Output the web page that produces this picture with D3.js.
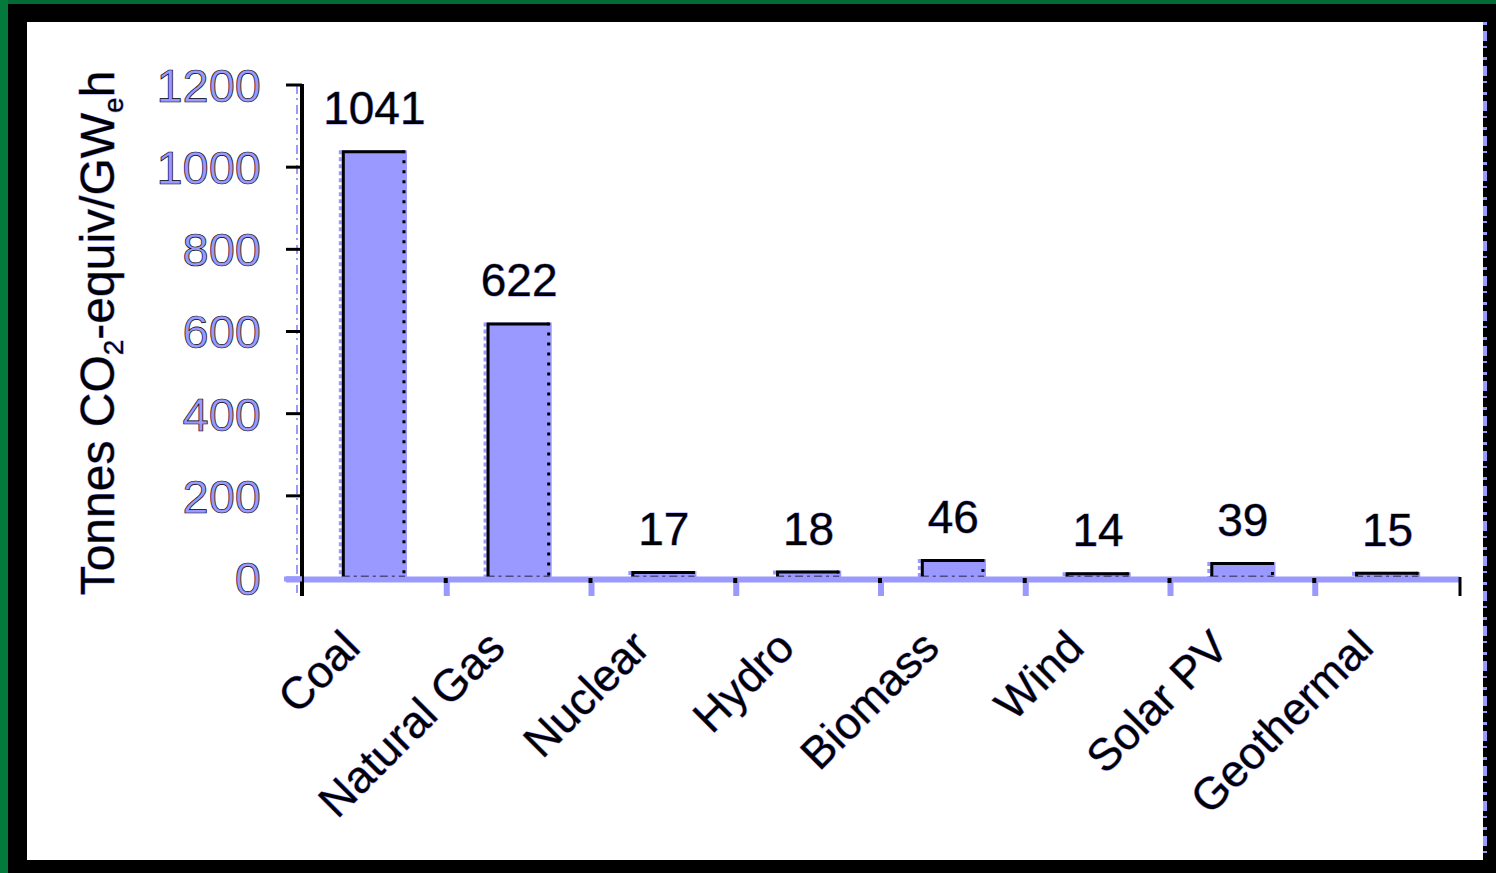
<!DOCTYPE html>
<html>
<head>
<meta charset="utf-8">
<script src="https://cdn.jsdelivr.net/npm/d3@7"></script>
<style>
  html, body { margin: 0; padding: 0; background: #000; }
  svg { display: block; }
  text { font-family: "Liberation Sans", Arial, sans-serif; }
</style>
</head>
<body>
<svg id="chart" width="1496" height="873"></svg>
<script>
// Life-cycle greenhouse emissions by generation source
const categories = ["Coal", "Natural Gas", "Nuclear", "Hydro", "Biomass", "Wind", "Solar PV", "Geothermal"];
const emissions = [1041, 622, 17, 18, 46, 14, 39, 15];
const yTicks = [0, 200, 400, 600, 800, 1000, 1200];

const LAV = "#9999ff";
const svg = d3.select("#chart");

// Frame: green edge, black border, white panel
svg.append("rect").attr("x", 0).attr("y", 0).attr("width", 1496).attr("height", 873).attr("fill", "#000");
svg.append("rect").attr("x", 0).attr("y", 0).attr("width", 1496).attr("height", 4).attr("fill", "#036b36");
svg.append("rect").attr("x", 0).attr("y", 0).attr("width", 8).attr("height", 873).attr("fill", "#037a3c");
svg.append("rect").attr("x", 27).attr("y", 22).attr("width", 1456).attr("height", 838).attr("fill", "#fff");
svg.append("line").attr("x1", 1485).attr("x2", 1485).attr("y1", 22).attr("y2", 860)
  .attr("stroke", LAV).attr("stroke-width", 4).attr("stroke-dasharray", "3,6,10,5,2,9");

const y = d3.scaleLinear().domain([0, 1200]).range([578, 85]);
const x = d3.scaleBand().domain(categories).range([302, 1460])
  .paddingInner(0.55).paddingOuter(0.275);
const step = x.step();
const [x0, x1] = x.range();

// Bars
const bars = svg.append("g");
categories.forEach((c, i) => {
  const v = emissions[i];
  const bx = x(c), bw = x.bandwidth(), top = y(v), base = y(0);
  bars.append("rect").attr("x", bx).attr("y", top).attr("width", bw).attr("height", base - top)
    .attr("fill", LAV);
  // lavender fringe on the left side
  bars.append("line").attr("x1", bx - 1.5).attr("x2", bx - 1.5).attr("y1", top).attr("y2", base)
    .attr("stroke", LAV).attr("stroke-width", 3).attr("stroke-dasharray", "4,3");
  // solid black left + top edges
  bars.append("path").attr("d", `M${bx + 1.5},${base} V${top + 1.5} H${bx + bw - 3}`)
    .attr("fill", "none").attr("stroke", "#000").attr("stroke-width", 3);
  // dotted right edge and dash-dot bottom edge
  bars.append("line").attr("x1", bx + bw - 3).attr("x2", bx + bw - 3).attr("y1", top).attr("y2", base)
    .attr("stroke", "#000").attr("stroke-width", 3).attr("stroke-dasharray", "3,7");
  bars.append("line").attr("x1", bx).attr("x2", bx + bw - 2).attr("y1", base - 1).attr("y2", base - 1)
    .attr("stroke", "#000").attr("stroke-width", 2.5).attr("stroke-dasharray", "8,4,3,4");
});

// X axis (lavender baseline with category ticks)
const xAxis = svg.append("g");
xAxis.append("line").attr("x1", 286).attr("x2", x1).attr("y1", y(0) + 1.5).attr("y2", y(0) + 1.5)
  .attr("stroke", LAV).attr("stroke-width", 6);
d3.range(1, categories.length).forEach(i => {
  const tx = x0 + i * step;
  xAxis.append("line").attr("x1", tx).attr("x2", tx).attr("y1", y(0)).attr("y2", y(0) + 18)
    .attr("stroke", LAV).attr("stroke-width", 6);
  xAxis.append("line").attr("x1", tx - 1).attr("x2", tx - 1).attr("y1", y(0)).attr("y2", y(0) + 5)
    .attr("stroke", "#000").attr("stroke-width", 4);
});
xAxis.append("line").attr("x1", x1).attr("x2", x1).attr("y1", y(0) - 1).attr("y2", y(0) + 18)
  .attr("stroke", "#000").attr("stroke-width", 3);

// Y axis
const yAxis = svg.append("g");
yAxis.append("line").attr("x1", 297).attr("x2", 297).attr("y1", y(1200)).attr("y2", y(0) + 15)
  .attr("stroke", LAV).attr("stroke-width", 2).attr("stroke-dasharray", "9,4,2,5");
yAxis.append("line").attr("x1", 302).attr("x2", 302).attr("y1", y(1200) - 1).attr("y2", y(0) + 18)
  .attr("stroke", "#000").attr("stroke-width", 4);
yAxis.append("line").attr("x1", 284).attr("x2", 302).attr("y1", y(0) + 1).attr("y2", y(0) + 1)
  .attr("stroke", LAV).attr("stroke-width", 5);
yTicks.forEach(t => {
  yAxis.append("line").attr("x1", 286).attr("x2", 302).attr("y1", y(t)).attr("y2", y(t))
    .attr("stroke", t === 0 ? LAV : "#000").attr("stroke-width", 3);
  yAxis.append("text").attr("x", 261).attr("y", y(t)).attr("dy", "0.36em")
    .attr("text-anchor", "end").attr("font-size", 47)
    .attr("fill", LAV).attr("stroke", "#000").attr("stroke-width", 0.7)
    .text(t);
});

// Y axis title
const title = svg.append("text")
  .attr("transform", "translate(114,333) rotate(-90)")
  .attr("text-anchor", "middle").attr("font-size", 48)
  .attr("fill", "#000").attr("stroke", LAV).attr("stroke-width", 1).attr("paint-order", "stroke");
title.append("tspan").text("Tonnes CO");
title.append("tspan").attr("font-size", 28).attr("dy", 9).text("2");
title.append("tspan").attr("dy", -9).text("-equiv/GW");
title.append("tspan").attr("font-size", 28).attr("dy", 9).text("e");
title.append("tspan").attr("dy", -9).text("h");

// Value labels above bars
categories.forEach((c, i) => {
  svg.append("text").attr("x", x(c) + x.bandwidth() / 2).attr("y", y(emissions[i]) - 26)
    .attr("text-anchor", "middle").attr("font-size", 46)
    .attr("fill", "#000").attr("stroke", LAV).attr("stroke-width", 1).attr("paint-order", "stroke")
    .text(emissions[i]);
});

// Rotated category labels
categories.forEach(c => {
  const cx = x(c) + x.bandwidth() / 2 - 12;
  svg.append("text").attr("transform", `translate(${cx},650) rotate(-45)`)
    .attr("text-anchor", "end").attr("font-size", 45)
    .attr("fill", "#000").attr("stroke", LAV).attr("stroke-width", 1).attr("paint-order", "stroke")
    .text(c);
});
</script>
</body>
</html>
